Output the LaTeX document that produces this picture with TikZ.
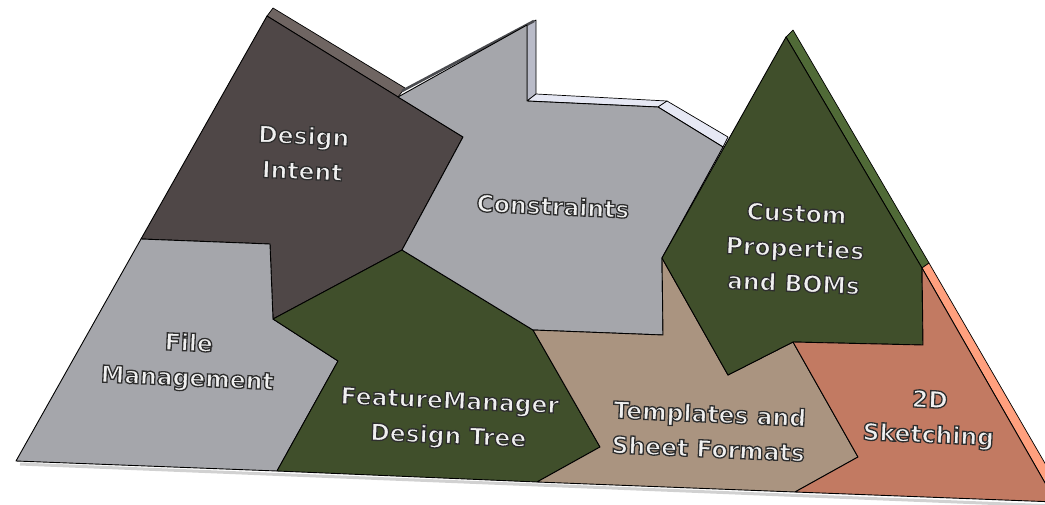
\documentclass[tikz,border=0pt]{standalone}
\usepackage{fontspec}
\usepackage{xcolor}
\newfontfamily\lblfont{DejaVu Sans}
\definecolor{DiFace}   {HTML}{4F4747}
\definecolor{DiSide}   {HTML}{6F6562}
\definecolor{GreyFace} {HTML}{A5A6AB}
\definecolor{CoSideA}  {HTML}{B9BBC8}
\definecolor{CoSideB}  {HTML}{E6E8F4}
\definecolor{CoRim}    {HTML}{4A4B4F}
\definecolor{OliveFace}{HTML}{404F2B}
\definecolor{OliveSide}{HTML}{506A37}
\definecolor{TanFace}  {HTML}{AA9480}
\definecolor{SkFace}   {HTML}{C27A62}
\definecolor{SkSide}   {HTML}{FFA07E}
\definecolor{LblFill}  {HTML}{F0F0F0}
\tikzset{
  pc_face/.style={draw=black, line width=0.9pt, line join=round},
  pc_side/.style={draw=black, line width=0.7pt, line join=round},
  lbl/.style={
    font=\lblfont\bfseries\fontsize{23.5}{35}\selectfont,
    text=LblFill, align=center, inner sep=0pt, rotate=-2.5},
}
% white letters with a dark outline (fill, then stroke)
\newcommand{\olabel}[1]{%
  \special{pdf:literal direct 2 Tr 1.3 w 0.18 0.18 0.18 RG}#1%
  \special{pdf:literal direct 0 Tr}}

\begin{document}
\begin{tikzpicture}[x=1pt,y=-1pt]

\useasboundingbox (0,0) rectangle (1045,504);
\clip (0,0) rectangle (1045,504);

%% shared corners
\coordinate (jA) at (141,239);  \coordinate (jB) at (270,244);
\coordinate (jC) at (273,319);  \coordinate (jD) at (402,250);
\coordinate (jE) at (463,137);  \coordinate (jF) at (398,97);
\coordinate (jG) at (338,361);  \coordinate (jH) at (277,471);
\coordinate (jI) at (533,330);  \coordinate (jJ) at (600,447);
\coordinate (jK) at (537,482);  \coordinate (jL) at (663,335);
\coordinate (jM) at (662,258);  \coordinate (jN) at (723,147);
\coordinate (jO) at (728,375);  \coordinate (jP) at (793,342);
\coordinate (jQ) at (858,457);  \coordinate (jR) at (795,492);
\coordinate (jS) at (922,268);  \coordinate (jT) at (923,345);

%% shadow under the base
\draw[black!40, line width=3pt, opacity=0.45] (20,464) -- (1056,506);

%% rims
\filldraw[pc_side, fill=DiSide]    (267,16) -- (273,8) -- (405,88) -- (jF) -- cycle;
\filldraw[pc_side, fill=CoSideA]   (527,25) -- (536,20) -- (536,94) -- (527,101) -- cycle;
\filldraw[pc_side, fill=CoSideB]   (527,101) -- (536,94) -- (667,101) -- (658,107) -- cycle;
\filldraw[pc_side, fill=CoSideB]   (658,107) -- (667,101) -- (728,137) -- (jN) -- cycle;
\filldraw[pc_side, fill=OliveSide] (786,37) -- (793,30) -- (929,263) -- (jS) -- cycle;
\filldraw[pc_side, fill=SkSide]    (jS) -- (929,263) -- (1068,503) -- (1056,502) -- cycle;
\draw[CoRim, line width=2.6pt] (402,91) -- (534,21);

%% pieces
\filldraw[pc_face, fill=DiFace]
  (267,16) -- (jE) -- (jD) -- (jC) -- (jB) -- (jA) -- cycle;
\filldraw[pc_face, fill=GreyFace]
  (jA) -- (jB) -- (jC) -- (jG) -- (jH) -- (16,461) -- cycle;
\filldraw[pc_face, fill=OliveFace]
  (jD) -- (jI) -- (jJ) -- (jK) -- (jH) -- (jG) -- (jC) -- cycle;
\filldraw[pc_face, fill=GreyFace]
  (jF) -- (527,25) -- (527,101) -- (658,107) -- (jN) -- (jM) -- (jL)
  -- (jI) -- (jD) -- (jE) -- cycle;
\filldraw[pc_face, fill=TanFace]
  (jI) -- (jL) -- (jM) -- (jO) -- (jP) -- (jQ) -- (jR) -- (jK) -- (jJ) -- cycle;
\filldraw[pc_face, fill=OliveFace]
  (786,37) -- (jS) -- (jT) -- (jP) -- (jO) -- (jM) -- cycle;
\filldraw[pc_face, fill=SkFace]
  (jS) -- (1056,502) -- (jR) -- (jQ) -- (jP) -- (jT) -- cycle;

%% labels
\node[lbl] (tIntent)  at (303,153) {\olabel{Design}\\\olabel{Intent}};
\node[lbl] (tConstr)  at (553,206) {\olabel{Constraints}};
\node[lbl] (tProps)   at (795,248) {\olabel{Custom}\\\olabel{Properties}\\\olabel{and BOMs}};
\node[lbl] (tFiles)   at (188,362) {\olabel{File}\\\olabel{Management}};
\node[lbl] (tTree)    at (449,420) {\olabel{FeatureManager}\\\olabel{Design Tree}};
\node[lbl] (tSheets)  at (709,431) {\olabel{Templates and}\\\olabel{Sheet Formats}};
\node[lbl] (tSketch)  at (929,419) {\olabel{2D}\\\olabel{Sketching}};

\end{tikzpicture}
\end{document}
